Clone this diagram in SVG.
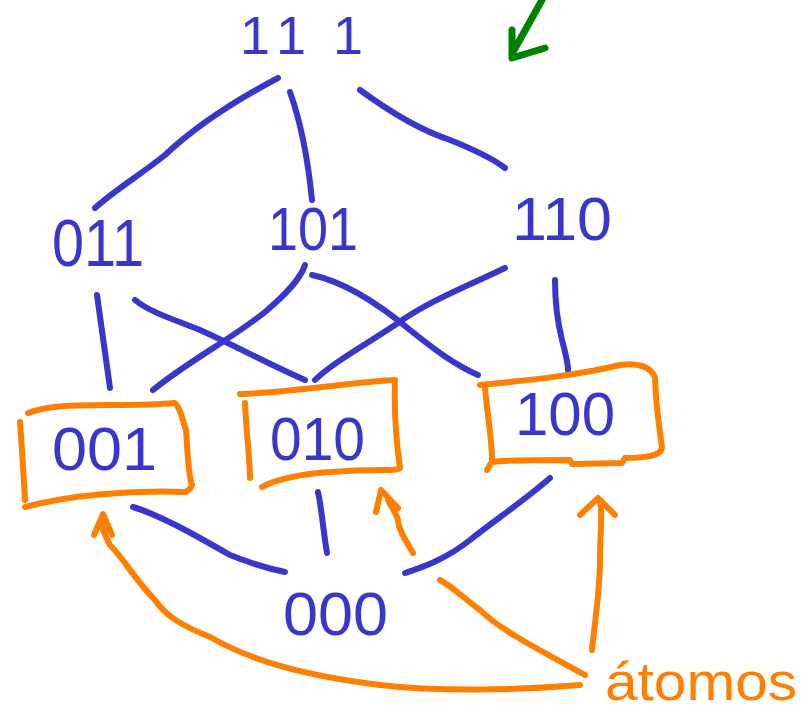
<svg xmlns="http://www.w3.org/2000/svg" width="809" height="715" viewBox="0 0 809 715">
<style>
.b{fill:none;stroke:#3a36cc;stroke-width:6;stroke-linecap:round;stroke-linejoin:round}
.o{fill:none;stroke:#ff8000;stroke-width:6;stroke-linecap:round;stroke-linejoin:round}
.g{fill:none;stroke:#008000;stroke-width:7;stroke-linecap:round;stroke-linejoin:round}
.t{font-family:"Liberation Sans","DejaVu Sans",sans-serif;fill:#3a36cc}
.ta{font-family:"Liberation Sans","DejaVu Sans",sans-serif;fill:#ff8000}
</style>
<rect width="809" height="715" fill="#fff"/>
<g id="arrow-top">
<path class="g" d="M542,0 L513,52 M512,30 L512,58 L545,48"/>
</g>
<g id="connectors">
<path class="b" d="M278,78 C240,98 200,122 165,155 C140,175 115,190 95,208"/>
<path class="b" d="M290,92 C300,120 308,160 312,200"/>
<path class="b" d="M360,90 C390,112 420,130 450,140 C475,150 492,158 505,168"/>
<path class="b" d="M97,295 C102,330 106,360 110,388"/>
<path class="b" d="M135,300 C150,312 170,318 200,330 C240,348 270,365 305,380"/>
<path class="b" d="M305,265 C300,280 285,295 265,312 C230,340 190,360 153,390"/>
<path class="b" d="M312,275 C345,282 380,305 410,330 C435,350 455,365 478,375"/>
<path class="b" d="M505,268 C470,285 430,300 395,325 C360,348 330,365 315,380"/>
<path class="b" d="M555,280 C555,300 557,320 562,340 C566,355 568,365 568,370"/>
<path class="b" d="M133,507 C160,515 195,535 230,555 C255,565 275,570 285,572"/>
<path class="b" d="M318,492 C322,510 323,530 327,553"/>
<path class="b" d="M550,478 C525,500 495,520 470,540 C445,560 420,568 405,573"/>
</g>
<g id="n111"><text class="t" font-size="54" x="240 276 333" y="54">111</text></g>
<g id="n011"><text class="t" font-size="66" x="52" y="266" textLength="92" lengthAdjust="spacingAndGlyphs">011</text></g>
<g id="n101"><text class="t" font-size="62" x="268" y="250" textLength="90" lengthAdjust="spacingAndGlyphs">101</text></g>
<g id="n110"><text class="t" font-size="62" x="512" y="240" textLength="100" lengthAdjust="spacingAndGlyphs">110</text></g>
<g id="n001">
<path class="o" d="M28,413 C60,400 120,408 175,403 C182,410 182,420 186,430 C188,455 188,475 192,485 C190,490 186,492 185,492 C130,490 70,495 25,507"/>
<path class="o" d="M20,422 C22,450 24,480 25,500"/>
<text class="t" font-size="62" x="52" y="470" textLength="105" lengthAdjust="spacingAndGlyphs">001</text>
</g>
<g id="n010">
<path class="o" d="M240,394 C300,392 350,382 395,380 C394,410 396,440 400,468 C396,472 380,468 330,472 C295,474 270,482 262,487"/>
<path class="o" d="M245,403 C246,430 250,460 250,478"/>
<text class="t" font-size="62" x="270" y="460" textLength="95" lengthAdjust="spacingAndGlyphs">010</text>
</g>
<g id="n100">
<path class="o" d="M480,385 C530,380 580,375 620,365 C640,362 652,368 655,378 C656,410 660,430 662,448 C660,455 650,458 625,458 L622,463 L572,464 L570,460 C540,460 500,460 492,462 C488,466 488,470 487,470"/>
<path class="o" d="M485,388 C488,420 492,440 492,460"/>
<text class="t" font-size="62" x="515" y="435" textLength="100" lengthAdjust="spacingAndGlyphs">100</text>
</g>
<g id="n000"><text class="t" font-size="62" x="283" y="635" textLength="105" lengthAdjust="spacingAndGlyphs">000</text></g>
<g id="atomos">
<text class="ta" font-size="54" x="605" y="700" textLength="192" lengthAdjust="spacingAndGlyphs">átomos</text>
</g>
<g id="orange-arrows">
<path class="o" d="M580,685 C520,690 440,692 380,685 C300,675 250,660 210,637 C180,625 165,615 155,600 C135,580 125,560 110,545 C102,530 102,525 102,520"/>
<path class="o" d="M94,535 L103,514 L112,535"/>
<path class="o" d="M585,675 C540,650 500,630 480,610 C460,595 450,585 440,580"/>
<path class="o" d="M413,553 C405,540 398,528 398,520 C395,510 390,505 388,500"/>
<path class="o" d="M376,512 L381,490 L398,508"/>
<path class="o" d="M592,650 C595,620 600,590 600,560 C600,530 603,520 600,500"/>
<path class="o" d="M580,515 L598,498 L615,515"/>
</g>
</svg>
